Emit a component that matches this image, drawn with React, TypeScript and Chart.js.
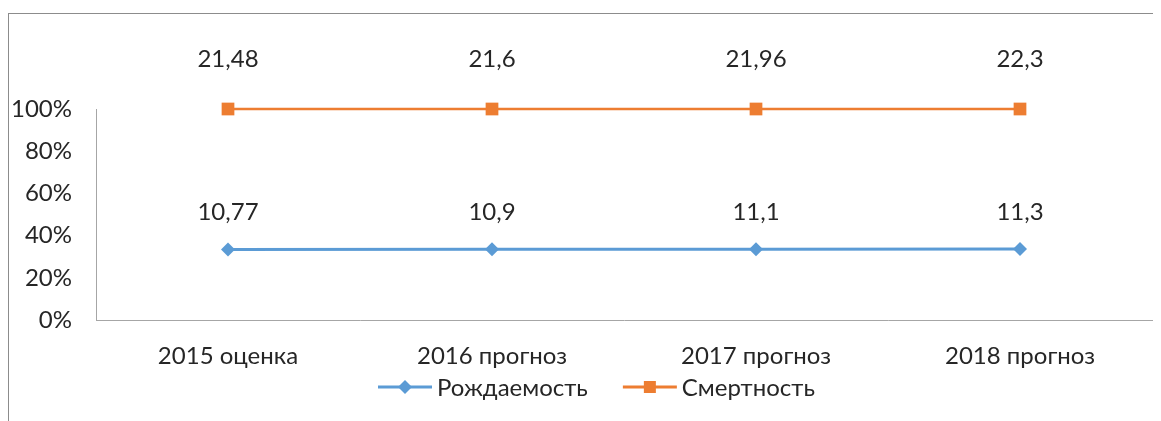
import React, { useEffect, useRef } from "react";
import { Chart, registerables } from "chart.js";

Chart.register(...registerables);

const categories = ["2015 оценка", "2016 прогноз", "2017 прогноз", "2018 прогноз"];
const birthValues = [10.77, 10.9, 11.1, 11.3];
const deathValues = [21.48, 21.6, 21.96, 22.3];
const birthLabels = ["10,77", "10,9", "11,1", "11,3"];
const deathLabels = ["21,48", "21,6", "21,96", "22,3"];
const seriesNames = ["Рождаемость", "Смертность"];
const yTicks = [0, 20, 40, 60, 80, 100];

const BLUE = "#5B9BD5";
const ORANGE = "#ED7D31";
const FONT = "Lato, 'Open Sans', sans-serif";
const FS = 24;
const TEXT = "#262626";

const totals = birthValues.map((b, i) => b + deathValues[i]);
const birthPct = birthValues.map((b, i) => (b / totals[i]) * 100);
const deathPct = deathValues.map((d, i) => ((birthValues[i] + d) / totals[i]) * 100);

const decorPlugin = {
  id: "decor",
  beforeDraw(chart: any) {
    const { ctx, width, height } = chart;
    ctx.save();
    ctx.fillStyle = "#fff";
    ctx.fillRect(0, 0, width, height);
    ctx.strokeStyle = "#8C8C8C";
    ctx.lineWidth = 1;
    ctx.strokeRect(0.5, 5.5, width - 1, height + 20);
    ctx.restore();
  },
  afterDatasetsDraw(chart: any) {
    const { ctx } = chart;
    ctx.save();
    ctx.font = `${FS}px ${FONT}`;
    ctx.fillStyle = TEXT;
    ctx.textAlign = "center";
    ctx.textBaseline = "middle";
    const sets = [
      { idx: 0, labels: birthLabels, off: 37 },
      { idx: 1, labels: deathLabels, off: 50 },
    ];
    sets.forEach((s) => {
      const meta = chart.getDatasetMeta(s.idx);
      meta.data.forEach((pt: any, i: number) => {
        ctx.fillText(s.labels[i], pt.x, pt.y - s.off);
      });
    });
    // legend
    const items = [
      { name: seriesNames[0], color: BLUE, style: "rectRot" },
      { name: seriesNames[1], color: ORANGE, style: "rect" },
    ];
    const y = 379;
    ctx.textAlign = "left";
    let x = 370;
    items.forEach((it) => {
      ctx.strokeStyle = it.color;
      ctx.lineWidth = 3;
      ctx.beginPath();
      ctx.moveTo(x, y);
      ctx.lineTo(x + 54, y);
      ctx.stroke();
      ctx.fillStyle = it.color;
      if (it.style === "rect") {
        ctx.fillRect(x + 27 - 6, y - 6, 12, 12);
      } else {
        ctx.beginPath();
        ctx.moveTo(x + 27, y - 7);
        ctx.lineTo(x + 34, y);
        ctx.lineTo(x + 27, y + 7);
        ctx.lineTo(x + 20, y);
        ctx.closePath();
        ctx.fill();
      }
      ctx.fillStyle = TEXT;
      ctx.fillText(it.name, x + 59, y + 1);
      x += 59 + ctx.measureText(it.name).width + 35;
    });
    ctx.restore();
  },
};

export default function App() {
  const ref = useRef<HTMLCanvasElement>(null);
  useEffect(() => {
    if (!ref.current) return;
    const chart = new Chart(ref.current, {
      type: "line",
      data: {
        labels: categories,
        datasets: [
          {
            label: seriesNames[0],
            data: birthPct,
            borderColor: BLUE,
            backgroundColor: BLUE,
            borderWidth: 3,
            pointStyle: "rectRot",
            pointRadius: 7,
            pointBorderWidth: 0,
            tension: 0,
            clip: false,
          },
          {
            label: seriesNames[1],
            data: deathPct,
            borderColor: ORANGE,
            backgroundColor: ORANGE,
            borderWidth: 2.5,
            pointStyle: "rect",
            pointRadius: 9,
            pointBorderWidth: 0,
            tension: 0,
            clip: false,
          },
        ],
      },
      options: {
        animation: false,
        responsive: false,
        maintainAspectRatio: false,
        layout: { padding: { top: 101, right: 6, bottom: 41, left: 0 } },
        plugins: {
          legend: { display: false },
          tooltip: { enabled: false },
        },
        scales: {
          x: {
            offset: true,
            afterFit: (s: any) => {
              s.height = 60;
              s.paddingRight = 0;
              s.paddingLeft = 0;
            },
            grid: { display: false, drawTicks: false },
            border: { display: true, color: "#A6A6A6", width: 1 },
            ticks: { color: TEXT, font: { size: FS, family: FONT }, padding: 22 },
          },
          y: {
            min: 0,
            max: 100,
            afterBuildTicks: (s: any) => {
              s.ticks = yTicks.map((v) => ({ value: v }));
            },
            afterFit: (s: any) => {
              s.width = 88;
            },
            grid: { display: false, drawTicks: false },
            border: { display: true, color: "#A6A6A6", width: 1 },
            ticks: {
              color: TEXT,
              font: { size: FS, family: FONT },
              padding: 24,
              callback: (v: any) => `${v}%`,
            },
          },
        },
      },
      plugins: [decorPlugin],
    });
    return () => chart.destroy();
  }, []);
  return <canvas ref={ref} width={1153} height={413} style={{ display: "block" }} />;
}
